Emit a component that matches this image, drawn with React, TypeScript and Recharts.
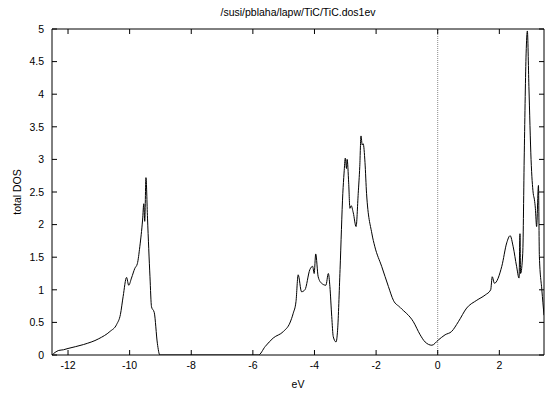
import React from 'react';
import { LineChart, Line, XAxis, YAxis, ReferenceLine, ReferenceArea, Label } from 'recharts';

// Total density of states of TiC (states/eV) against energy (eV), Fermi level at 0
const energies: number[] = [
  -12.52, -12.42, -12.3, -12.15, -12.0, -11.5, -11.0, -10.64, -10.42, -10.3,
  -10.21, -10.1, -10.03, -9.94, -9.83, -9.75, -9.67, -9.58, -9.54, -9.51,
  -9.47, -9.42, -9.34, -9.29, -9.2, -9.1, -9.02,
  -5.82, -5.6, -5.34, -5.01, -4.8, -4.69, -4.6, -4.53, -4.42, -4.31,
  -4.15, -4.06, -4.01, -3.96, -3.88, -3.77, -3.63, -3.55, -3.5, -3.44,
  -3.39, -3.3, -3.25, -3.17, -3.08, -3.04, -3.0, -2.96, -2.94, -2.89,
  -2.85, -2.81, -2.74, -2.65, -2.58, -2.53, -2.49, -2.45, -2.42, -2.36,
  -2.31, -2.14, -2.04, -1.82, -1.6, -1.44, -1.22,
  -0.79, -0.57, -0.41, -0.19, 0.02, 0.24, 0.45, 0.67, 0.94, 1.27,
  1.54, 1.72, 1.77, 1.84, 2.08, 2.24, 2.35, 2.45, 2.56, 2.64,
  2.67, 2.69, 2.76, 2.81, 2.87, 2.91, 2.96, 3.03, 3.1, 3.14,
  3.17, 3.21, 3.27, 3.3, 3.38, 3.45,
];

const totalDos: number[] = [
  0, 0.04, 0.07, 0.08, 0.1, 0.16, 0.25, 0.36, 0.47, 0.62,
  0.9, 1.19, 1.07, 1.18, 1.33, 1.4, 1.66, 2.07, 2.32, 2.05,
  2.72, 2.1, 1.2, 0.74, 0.65, 0.18, 0,
  0, 0.13, 0.26, 0.36, 0.49, 0.64, 0.82, 1.23, 0.97, 1.0,
  1.31, 1.36, 1.25, 1.55, 1.2, 1.1, 1.07, 1.25, 1.05, 0.59,
  0.28, 0.2, 0.38, 1.31, 2.48, 2.79, 3.02, 2.86, 3.0, 2.64,
  2.25, 2.29, 2.18, 1.97, 2.48, 2.89, 3.36, 3.22, 3.24, 2.95,
  2.48, 1.87, 1.66, 1.36, 1.05, 0.84, 0.73,
  0.51, 0.31, 0.2, 0.15, 0.23, 0.31, 0.36, 0.51, 0.72, 0.84,
  0.92, 1.0, 1.2, 1.1, 1.36, 1.72, 1.83, 1.66, 1.36, 1.18,
  1.86, 1.25, 1.56, 3.1, 4.63, 4.97, 4.12, 3.0, 2.48, 2.38,
  2.25, 1.97, 2.6, 1.51, 1.0, 0.61,
];

const xTicks: number[] = [-12, -10, -8, -6, -4, -2, 0, 2];
const yTicks: number[] = [0, 0.5, 1, 1.5, 2, 2.5, 3, 3.5, 4, 4.5, 5];
const xDomain: [number, number] = [-12.52, 3.45];
const yDomain: [number, number] = [0, 5];

const title = '/susi/pblaha/lapw/TiC/TiC.dos1ev';
const xLabel = 'eV';
const yLabel = 'total DOS';

const rows = energies.map((e, i) => ({ e, dos: totalDos[i] }));

// chart geometry
const W = 545;
const H = 394;
const MARGIN = { top: 29, right: 1, bottom: 0, left: 0 };
const Y_AXIS_W = 52;
const X_AXIS_H = 39;
const PLOT_LEFT = MARGIN.left + Y_AXIS_W;
const PLOT_RIGHT = W - MARGIN.right;
const PLOT_TOP = MARGIN.top;
const PLOT_BOTTOM = H - MARGIN.bottom - X_AXIS_H;
const TICK_LEN = 5;

const FONT = '"Liberation Sans", Arial, sans-serif';
const FONT_SIZE = 10.5;
const textStyle = { fontFamily: FONT, fontSize: FONT_SIZE, fill: '#000' };

// x tick: label below the frame, inward marks on bottom and top edges
const XTick = (props: any) => {
  const { x, payload } = props;
  return (
    <g>
      <line x1={x} x2={x} y1={PLOT_BOTTOM} y2={PLOT_BOTTOM - TICK_LEN} stroke="#000" />
      <line x1={x} x2={x} y1={PLOT_TOP} y2={PLOT_TOP + TICK_LEN} stroke="#000" />
      <text x={x} y={PLOT_BOTTOM + 7} dy="0.71em" textAnchor="middle" style={textStyle}>
        {String(payload.value)}
      </text>
    </g>
  );
};

// y tick: label left of the frame, inward marks on left and right edges
const YTick = (props: any) => {
  const { y, payload } = props;
  return (
    <g>
      <line x1={PLOT_LEFT} x2={PLOT_LEFT + TICK_LEN} y1={y} y2={y} stroke="#000" />
      <line x1={PLOT_RIGHT} x2={PLOT_RIGHT - TICK_LEN} y1={y} y2={y} stroke="#000" />
      <text x={PLOT_LEFT - 8} y={y} dy="0.355em" textAnchor="end" style={textStyle}>
        {String(payload.value)}
      </text>
    </g>
  );
};

const YTitle = () => {
  const cx = 17;
  const cy = (PLOT_TOP + PLOT_BOTTOM) / 2;
  return (
    <text
      x={cx}
      y={cy}
      transform={`rotate(-90 ${cx} ${cy})`}
      textAnchor="middle"
      dominantBaseline="central"
      style={textStyle}
    >
      {yLabel}
    </text>
  );
};

export default function App() {
  return (
    <div style={{ position: 'absolute', left: 0, top: 0, width: W, height: H, background: '#fff' }}>
      <div
        style={{
          position: 'absolute',
          left: 0,
          top: 5,
          width: 596,
          textAlign: 'center',
          fontFamily: FONT,
          fontSize: FONT_SIZE,
          color: '#000',
          lineHeight: '14px',
        }}
      >
        {title}
      </div>
      <LineChart width={W} height={H} data={rows} margin={MARGIN}>
        <XAxis
          dataKey="e"
          type="number"
          domain={xDomain}
          ticks={xTicks}
          allowDataOverflow
          height={X_AXIS_H}
          tickLine={false}
          tickSize={0}
          tickMargin={7}
          axisLine={false}
          tick={<XTick />}
          interval={0}
        >
          <Label value={xLabel} position="insideBottom" offset={6} style={textStyle} />
        </XAxis>
        <YAxis
          type="number"
          domain={yDomain}
          ticks={yTicks}
          allowDataOverflow
          width={Y_AXIS_W}
          tickLine={false}
          tickSize={0}
          tickMargin={8}
          axisLine={false}
          tick={<YTick />}
          interval={0}
        >
          <Label content={<YTitle />} />
        </YAxis>
        {/* plot frame */}
        <ReferenceArea
          x1={xDomain[0]}
          x2={xDomain[1]}
          y1={yDomain[0]}
          y2={yDomain[1]}
          stroke="#000"
          strokeWidth={1}
          fill="none"
          fillOpacity={0}
          ifOverflow="visible"
        />
        <ReferenceLine x={0} stroke="#888" strokeWidth={1} strokeDasharray="1 1" />
        <Line
          dataKey="dos"
          type="monotone"
          stroke="#000"
          strokeWidth={1}
          dot={false}
          activeDot={false}
          isAnimationActive={false}
        />
      </LineChart>
    </div>
  );
}
